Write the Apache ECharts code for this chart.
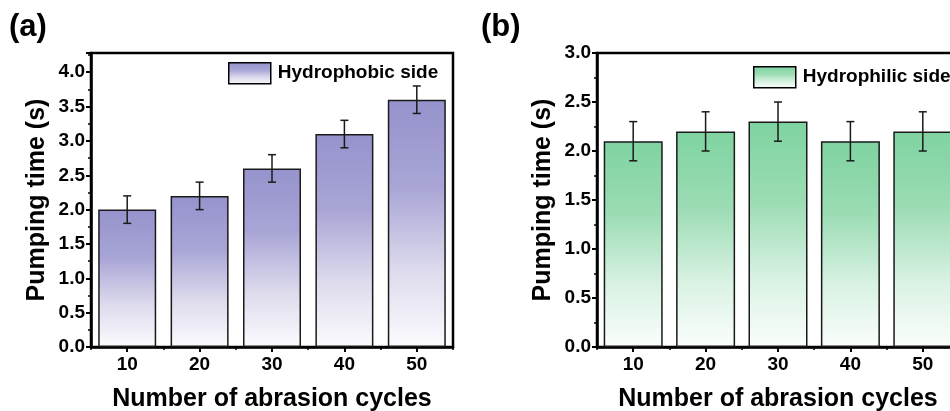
<!DOCTYPE html>
<html>
<head>
<meta charset="utf-8">
<script src="https://cdn.jsdelivr.net/npm/echarts@6/dist/echarts.min.js"></script>
<style>
html,body{margin:0;padding:0;background:#fff;}
#main{width:950px;height:411px;}
</style>
</head>
<body>
<div id="main"></div>
<script>
// ---- data ----
const categories = ['10', '20', '30', '40', '50'];
const hydrophobicValues = [2.0, 2.2, 2.6, 3.1, 3.6];
const hydrophobicErrors = [0.2, 0.2, 0.2, 0.2, 0.2];
const hydrophilicValues = [2.1, 2.2, 2.3, 2.1, 2.2];
const hydrophilicErrors = [0.2, 0.2, 0.2, 0.2, 0.2];
const yMaxA = 4.28;
const yMaxB = 3.0;

const FONT = '"Liberation Sans", Arial, sans-serif';
const chart = echarts.init(document.getElementById('main'));

function grad(stops) {
  return { type: 'linear', x: 0, y: 0, x2: 0, y2: 1, colorStops: stops };
}
const purple = grad([
  { offset: 0, color: '#9692cc' },
  { offset: 0.35, color: '#a8a5d6' },
  { offset: 0.7, color: '#dedced' },
  { offset: 1, color: '#fbfbfe' }
]);
const green = grad([
  { offset: 0, color: '#7fd3a1' },
  { offset: 0.35, color: '#9bdcb4' },
  { offset: 0.7, color: '#d9f2e3' },
  { offset: 1, color: '#fbfefc' }
]);

function errData(vals, errs) {
  return vals.map((v, i) => [i, v - errs[i], v + errs[i]]);
}
function renderErr(params, api) {
  const i = api.value(0);
  const lo = api.coord([i, api.value(1)]);
  const hi = api.coord([i, api.value(2)]);
  const cw = 4;
  const st = { stroke: '#1a1a1a', lineWidth: 1.5 };
  return {
    type: 'group',
    children: [
      { type: 'line', shape: { x1: lo[0], y1: lo[1], x2: hi[0], y2: hi[1] }, style: st },
      { type: 'line', shape: { x1: lo[0] - cw, y1: lo[1], x2: lo[0] + cw, y2: lo[1] }, style: st },
      { type: 'line', shape: { x1: hi[0] - cw, y1: hi[1], x2: hi[0] + cw, y2: hi[1] }, style: st }
    ]
  };
}

const labelStyle = { color: '#000', fontFamily: FONT, fontWeight: 'bold', fontSize: 19 };
const nameStyle = { color: '#000', fontFamily: FONT, fontWeight: 'bold', fontSize: 25 };

function yAxis(gi, max) {
  return {
    type: 'value', gridIndex: gi, min: 0, max: max, interval: 0.5,
    name: 'Pumping time (s)', nameLocation: 'middle', nameGap: 41,
    nameTextStyle: nameStyle,
    axisLine: { show: true, lineStyle: { color: '#000', width: 2.5 } },
    axisTick: { show: true, inside: false, length: 5, lineStyle: { color: '#000', width: 2 } },
    minorTick: { show: true, splitNumber: 2, length: 3, lineStyle: { color: '#000', width: 1.5 } },
    splitLine: { show: false },
    axisLabel: Object.assign({}, labelStyle, {
      margin: 6,
      formatter: v => (Math.abs(v * 2 - Math.round(v * 2)) < 1e-6 ? v.toFixed(1) : '')
    })
  };
}
function xAxisMain(gi) {
  return {
    type: 'category', gridIndex: gi, data: categories, position: 'bottom',
    name: 'Number of abrasion cycles', nameLocation: 'middle', nameGap: 40,
    nameTextStyle: nameStyle,
    axisLine: { show: true, lineStyle: { color: '#000', width: 2.5 } },
    axisTick: { show: true, alignWithLabel: true, inside: false, length: 5, lineStyle: { color: '#000', width: 2 } },
    axisLabel: Object.assign({}, labelStyle, { margin: 8 }),
    splitLine: { show: false }
  };
}
function xAxisMinor(gi) {
  return {
    type: 'category', gridIndex: gi, data: categories, position: 'bottom',
    axisLine: { show: false },
    axisTick: { show: true, alignWithLabel: false, interval: 0, inside: false, length: 3, lineStyle: { color: '#000', width: 1.5 } },
    axisLabel: { show: false },
    splitLine: { show: false }
  };
}

const option = {
  backgroundColor: '#fff',
  animation: false,
  title: [
    { text: '(a)', left: 9, top: 12, padding: 0, textStyle: { fontFamily: FONT, fontWeight: 'bold', fontSize: 31, color: '#000' } },
    { text: '(b)', left: 481, top: 12, padding: 0, textStyle: { fontFamily: FONT, fontWeight: 'bold', fontSize: 31, color: '#000' } }
  ],
  legend: [
    {
      data: ['Hydrophobic side'], left: 228, top: 62, padding: 0, itemWidth: 42, itemHeight: 21, icon: 'rect',
      itemStyle: { borderColor: '#000', borderWidth: 1.5 },
      textStyle: { fontFamily: FONT, fontWeight: 'bold', fontSize: 19, color: '#000', padding: [0, 0, 0, 2] }
    },
    {
      data: ['Hydrophilic side'], left: 753, top: 66, padding: 0, itemWidth: 42, itemHeight: 21, icon: 'rect',
      itemStyle: { borderColor: '#000', borderWidth: 1.5 },
      textStyle: { fontFamily: FONT, fontWeight: 'bold', fontSize: 19, color: '#000', padding: [0, 0, 0, 2] }
    }
  ],
  grid: [
    { left: 91, top: 53, width: 362, height: 294, outerBoundsMode: 'none', containLabel: false, show: true, borderColor: '#000', borderWidth: 2.5, backgroundColor: 'transparent' },
    { left: 597, top: 53, width: 362, height: 294, outerBoundsMode: 'none', containLabel: false, show: true, borderColor: '#000', borderWidth: 2.5, backgroundColor: 'transparent' }
  ],
  xAxis: [xAxisMain(0), xAxisMinor(0), xAxisMain(1), xAxisMinor(1)],
  yAxis: [yAxis(0, yMaxA), yAxis(1, yMaxB)],
  series: [
    {
      name: 'Hydrophobic side', type: 'bar', xAxisIndex: 0, yAxisIndex: 0, data: hydrophobicValues,
      barWidth: 58, itemStyle: { color: purple, borderColor: '#1a1a1a', borderWidth: 1.5 }
    },
    {
      type: 'custom', xAxisIndex: 0, yAxisIndex: 0, data: errData(hydrophobicValues, hydrophobicErrors),
      renderItem: renderErr, z: 5
    },
    {
      name: 'Hydrophilic side', type: 'bar', xAxisIndex: 2, yAxisIndex: 1, data: hydrophilicValues,
      barWidth: 59, itemStyle: { color: green, borderColor: '#1a1a1a', borderWidth: 1.5 }
    },
    {
      type: 'custom', xAxisIndex: 2, yAxisIndex: 1, data: errData(hydrophilicValues, hydrophilicErrors),
      renderItem: renderErr, z: 5
    }
  ]
};
chart.setOption(option);
</script>
</body>
</html>
